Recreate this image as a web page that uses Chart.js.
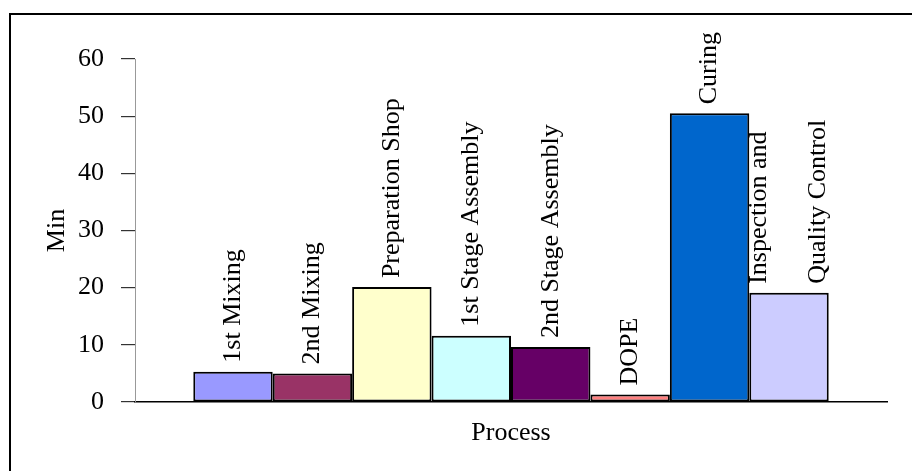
<!DOCTYPE html>
<html>
<head>
<meta charset="utf-8">
<title>Process time</title>
<script src="https://cdn.jsdelivr.net/npm/chart.js@4.4.1/dist/chart.umd.min.js"></script>
<style>
    html, body { margin: 0; padding: 0; background: #fff; overflow: hidden; }
    .wrap { position: relative; width: 912px; height: 471px; }
    .frame {
        position: absolute; left: 9px; top: 13px;
        width: 1000px; height: 1000px;
        border: 2px solid #000; pointer-events: none;
    }
</style>
</head>
<body>
<div class="wrap">
    <canvas id="processChart"></canvas>
    <div class="frame"></div>
</div>
<script>
// Time per process step (minutes)
const processes = [
    '1st Mixing',
    '2nd Mixing',
    'Preparation Shop',
    '1st Stage Assembly',
    '2nd Stage Assembly',
    'DOPE',
    'Curing',
    ['Inspection and', 'Quality Control']
];
const minutes = [5.3, 5.0, 20.1, 11.6, 9.6, 1.3, 50.5, 19.1];
const barColors = ['#9999FF', '#993366', '#FFFFCC', '#CCFFFF', '#660066', '#FF8080', '#0066CC', '#CCCCFF'];
const yTicks = [0, 10, 20, 30, 40, 50, 60];

const FONT = "'Liberation Serif', 'Times New Roman', serif";
const FONT_SIZE = 26;

// Rotated labels on top of each bar
const barLabels = {
    id: 'barLabels',
    afterDatasetsDraw(chart) {
        const ctx = chart.ctx;
        ctx.save();
        ctx.font = FONT_SIZE + 'px ' + FONT;
        ctx.fillStyle = '#000';
        ctx.textAlign = 'left';
        ctx.textBaseline = 'middle';
        chart.data.datasets.forEach((ds, i) => {
            const bar = chart.getDatasetMeta(i).data[0];
            const lines = Array.isArray(ds.label) ? ds.label : [ds.label];
            ctx.save();
            ctx.translate(bar.x, bar.y - 9);
            ctx.rotate(-Math.PI / 2);
            lines.forEach((line, k) => {
                ctx.fillText(line, 0, (k - (lines.length - 1) / 2) * 59);
            });
            ctx.restore();
        });
        ctx.restore();
    }
};

const ctx = document.getElementById('processChart');

new Chart(ctx, {
    type: 'bar',
    data: {
        labels: ['Process'],
        datasets: processes.map((name, i) => ({
            label: name,
            data: [minutes[i]],
            backgroundColor: barColors[i],
            borderColor: '#000',
            borderWidth: 2,
            borderSkipped: false,
            barPercentage: 1,
            categoryPercentage: 0.845
        }))
    },
    options: {
        responsive: true,
        maintainAspectRatio: false,
        animation: false,
        events: [],
        layout: {
            padding: { top: 59, right: 25, left: 0, bottom: 0 }
        },
        plugins: {
            legend: { display: false },
            tooltip: { enabled: false }
        },
        scales: {
            x: {
                grid: { display: false },
                border: { color: '#000', width: 1.5 },
                ticks: { display: false },
                title: {
                    display: true,
                    text: 'Process',
                    color: '#000',
                    font: { family: FONT, size: FONT_SIZE },
                    padding: { top: 0, bottom: 22 }
                },
                afterFit(scale) { scale.height = 69; }
            },
            y: {
                min: yTicks[0],
                max: yTicks[yTicks.length - 1],
                afterBuildTicks(scale) {
                    scale.ticks = yTicks.map(v => ({ value: v }));
                },
                grid: {
                    drawOnChartArea: false,
                    drawTicks: true,
                    tickLength: 14,
                    color: '#333',
                    lineWidth: 1.2
                },
                border: { color: '#999', width: 1 },
                ticks: {
                    color: '#000',
                    padding: 17,
                    font: { family: FONT, size: FONT_SIZE }
                },
                title: {
                    display: true,
                    text: 'Min',
                    color: '#000',
                    font: { family: FONT, size: FONT_SIZE },
                    padding: { top: 42, bottom: 0 }
                },
                afterFit(scale) { scale.width = 135; }
            }
        }
    },
    plugins: [barLabels]
});
</script>
</body>
</html>
